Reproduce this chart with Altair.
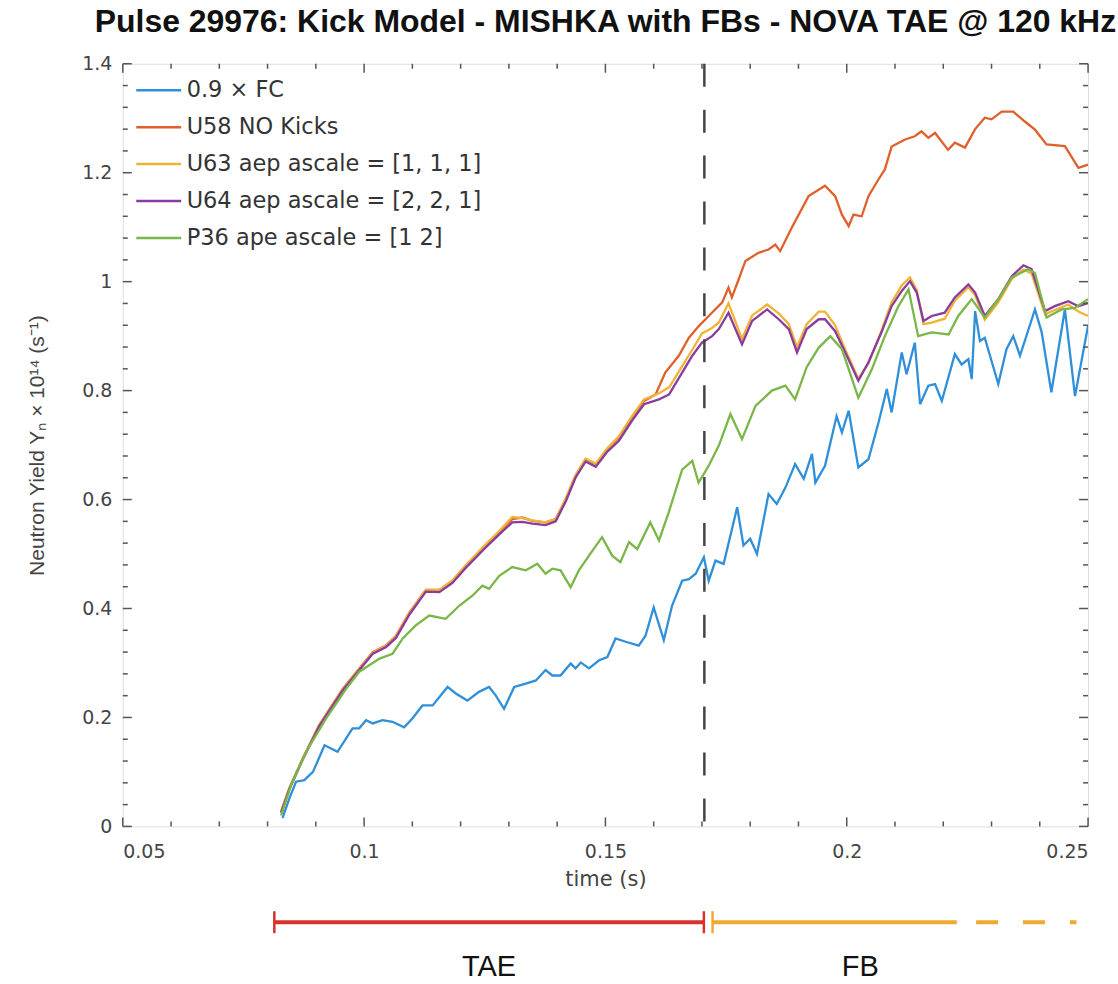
import altair as alt
import pandas as pd

# ---------------- data ----------------
names = ["0.9 × FC", "U58 NO Kicks", "U63 aep ascale = [1, 1, 1]",
         "U64 aep ascale = [2, 2, 1]", "P36 ape ascale = [1 2]"]
colors = ["#2f8fd8", "#e0602c", "#f0b334", "#8a3c9e", "#7ab648"]

fc_t = [0.0831,0.0845,0.0859,0.0876,0.0894,0.0918,0.0945,0.0976,0.099,0.1004,0.1018,0.1038,0.1059,0.1083,0.1100,
        0.1121,0.1142,0.1173,0.119,0.1214,0.1238,0.1259,0.1273,0.129,0.1311,0.1335,0.1356,0.1376,0.139,0.1407,
        0.1428,0.1438,0.1449,0.1466,0.1487,0.1504,0.1521,0.1542,0.1569,0.1583,0.160,0.1621,0.1638,0.1659,0.1673,
        0.1687,0.1704,0.1714,0.1728,0.1745,0.1773,0.1786,0.180,0.1814,0.1838,0.1855,0.1873,0.1893,0.1911,0.1928,
        0.1935,0.1955,0.1979,0.199,0.2004,0.2024,0.2045,0.2066,0.2083,0.2093,0.2114,0.2124,0.2141,0.2152,0.2169,
        0.2183,0.2197,0.2224,0.2238,0.2252,0.2259,0.2266,0.2276,0.2286,0.2314,0.2331,0.2345,0.2359,0.239,0.2404,
        0.2424,0.2452,0.2473,0.25]
fc_y = [0.015,0.051,0.082,0.085,0.100,0.149,0.137,0.180,0.180,0.195,0.189,0.195,0.192,0.182,0.198,
        0.222,0.222,0.256,0.244,0.231,0.247,0.256,0.240,0.216,0.256,0.262,0.268,0.287,0.277,0.277,
        0.299,0.290,0.301,0.290,0.305,0.311,0.345,0.339,0.332,0.350,0.402,0.342,0.405,0.451,0.454,
        0.464,0.494,0.451,0.488,0.482,0.586,0.516,0.528,0.500,0.610,0.592,0.622,0.665,0.638,0.684,
        0.631,0.662,0.753,0.723,0.763,0.659,0.674,0.742,0.803,0.760,0.870,0.830,0.888,0.775,0.809,
        0.812,0.781,0.867,0.848,0.858,0.821,0.946,0.891,0.897,0.812,0.876,0.900,0.864,0.949,0.907,
        0.797,0.949,0.790,0.919]

u58_t = [0.0828,0.0845,0.0873,0.0907,0.0956,0.099,0.1018,0.1045,0.1066,0.1094,0.1128,0.1156,0.1183,0.1211,0.1252,
         0.128,0.1307,0.1328,0.1349,0.1376,0.1397,0.1418,0.1438,0.1459,0.148,0.1504,0.1528,0.1556,0.158,0.1604,
         0.1624,0.1652,0.1673,0.1693,0.1714,0.1742,0.1755,0.1762,0.1776,0.179,0.1817,0.1838,0.1852,0.1862,0.1886,
         0.1921,0.1955,0.1976,0.199,0.2004,0.2014,0.2031,0.2045,0.2066,0.2079,0.2093,0.2121,0.2141,0.2155,0.2169,
         0.2183,0.221,0.2224,0.2245,0.2266,0.2286,0.23,0.2321,0.2345,0.2369,0.239,0.2414,0.2452,0.248,0.25]
u58_y = [0.027,0.070,0.125,0.186,0.253,0.290,0.320,0.332,0.350,0.393,0.434,0.434,0.451,0.479,0.516,
         0.540,0.564,0.567,0.561,0.558,0.564,0.601,0.643,0.674,0.665,0.693,0.714,0.753,0.781,0.793,
         0.833,0.864,0.897,0.918,0.937,0.962,0.989,0.971,1.004,1.038,1.053,1.059,1.068,1.056,1.099,
         1.157,1.176,1.157,1.123,1.102,1.123,1.120,1.157,1.188,1.206,1.248,1.261,1.267,1.276,1.264,
         1.273,1.242,1.255,1.246,1.280,1.301,1.298,1.312,1.312,1.294,1.279,1.252,1.249,1.209,1.215]

u6x_t = [0.0828,0.0845,0.0873,0.0907,0.0956,0.099,0.1018,0.1045,0.1066,0.1094,0.1128,0.1156,0.1183,0.1211,0.1252,
         0.128,0.1307,0.1328,0.1349,0.1376,0.1397,0.1418,0.1438,0.1459,0.148,0.1504,0.1528,0.1556,0.158,0.1611,
         0.1632,0.1659,0.168,0.17,0.1721,0.1735,0.1755,0.1783,0.1804,0.1835,0.1859,0.188,0.1897,0.1917,0.1942,
         0.1955,0.1976,0.1997,0.2024,0.2045,0.2072,0.2093,0.2114,0.2131,0.2145,0.2159,0.2176,0.2203,0.2224,0.2252,
         0.2266,0.2286,0.2314,0.2342,0.2366,0.2383,0.2411,0.2431,0.2459,0.248,0.25]
u63_y = [0.026,0.069,0.124,0.186,0.252,0.289,0.319,0.331,0.349,0.392,0.434,0.434,0.451,0.480,0.518,
         0.542,0.568,0.566,0.562,0.558,0.564,0.602,0.645,0.675,0.666,0.694,0.716,0.754,0.784,0.795,
         0.806,0.845,0.875,0.905,0.915,0.925,0.960,0.895,0.938,0.958,0.942,0.922,0.880,0.922,0.945,
         0.945,0.920,0.875,0.822,0.850,0.910,0.962,0.993,1.008,0.985,0.922,0.925,0.932,0.965,0.990,
         0.975,0.930,0.962,1.005,1.022,1.015,0.940,0.948,0.958,0.945,0.937]
u64_y = [0.025,0.068,0.123,0.184,0.250,0.287,0.317,0.329,0.346,0.389,0.431,0.430,0.447,0.475,0.512,
         0.536,0.558,0.559,0.556,0.553,0.560,0.597,0.640,0.670,0.660,0.688,0.708,0.746,0.775,0.784,
         0.793,0.833,0.864,0.888,0.900,0.913,0.943,0.885,0.928,0.949,0.931,0.913,0.870,0.913,0.931,
         0.931,0.909,0.870,0.818,0.852,0.907,0.955,0.983,1.001,0.980,0.928,0.937,0.943,0.971,0.995,
         0.980,0.937,0.968,1.010,1.030,1.023,0.946,0.955,0.964,0.955,0.961]

p36_t = [0.0828,0.0849,0.088,0.0921,0.0963,0.099,0.1032,0.1059,0.108,0.1107,0.1135,0.1169,0.1197,0.1225,0.1245,
         0.1259,0.128,0.1307,0.1335,0.1359,0.1376,0.139,0.1407,0.1428,0.1445,0.1466,0.1493,0.1514,0.1531,0.1549,
         0.1566,0.1593,0.1611,0.1631,0.1659,0.168,0.1693,0.1714,0.1735,0.1759,0.1783,0.1811,0.1845,0.1873,0.1893,
         0.1917,0.1942,0.1966,0.199,0.2024,0.2052,0.2079,0.2107,0.2128,0.2148,0.2176,0.2211,0.2231,0.2259,0.2286,
         0.2314,0.2342,0.2376,0.239,0.2414,0.2445,0.2473,0.25]
p36_y = [0.020,0.076,0.137,0.198,0.253,0.284,0.308,0.317,0.345,0.369,0.387,0.381,0.405,0.424,0.442,
         0.436,0.460,0.476,0.470,0.482,0.464,0.473,0.470,0.439,0.470,0.497,0.531,0.497,0.485,0.522,
         0.509,0.558,0.525,0.576,0.655,0.671,0.631,0.662,0.699,0.757,0.711,0.772,0.800,0.809,0.784,
         0.843,0.879,0.900,0.876,0.787,0.839,0.900,0.955,0.986,0.900,0.907,0.903,0.937,0.968,0.934,
         0.968,1.008,1.023,1.016,0.934,0.949,0.952,0.968]

marker_t = [0.1705]                      # dashed vertical line
tae_span = [0.0814, 0.1704]              # TAE bar
fb_span = [0.1722, 0.2228]               # FB bar (solid part)
fb_dash = [0.2268, 0.2476]               # FB bar (dashed part)
phase_labels = ["TAE", "FB"]
phase_label_t = [0.1259, 0.2028]

x_major = [0.05, 0.1, 0.15, 0.2, 0.25]
x_minor = [0.06, 0.07, 0.08, 0.09, 0.11, 0.12, 0.13, 0.14, 0.16, 0.17, 0.18, 0.19, 0.21, 0.22, 0.23, 0.24]
y_major = [0, 0.2, 0.4, 0.6, 0.8, 1.0, 1.2, 1.4]
y_minor = [0.04, 0.08, 0.12, 0.16, 0.24, 0.28, 0.32, 0.36, 0.44, 0.48, 0.52, 0.56, 0.64, 0.68, 0.72, 0.76,
           0.84, 0.88, 0.92, 0.96, 1.04, 1.08, 1.12, 1.16, 1.24, 1.28, 1.32, 1.36]

# ---------------- build tables ----------------
series = [(names[0], fc_t, fc_y), (names[1], u58_t, u58_y), (names[2], u6x_t, u63_y),
          (names[3], u6x_t, u64_y), (names[4], p36_t, p36_y)]
rows = []
for name, ts, ys in series:
    for t, y in zip(ts, ys):
        rows.append({"series": name, "t": t, "y": y})
df = pd.DataFrame(rows)

W, H = 967, 764
FONT = "Liberation Sans"
WIDE = "DejaVu Sans"
xs = alt.Scale(domain=[0.05, 0.25], nice=False, zero=False)
ys_ = alt.Scale(domain=[0, 1.4], nice=False, zero=True)

lines = alt.Chart(df).mark_line(strokeWidth=2.3, clip=True).encode(
    x=alt.X("t:Q", scale=xs, axis=alt.Axis(values=x_major, format=".2~f", ticks=False, domain=False, grid=False,
                                           labelFontSize=19, labelColor="#444", labelPadding=16, labelFont=WIDE,
                                           title="time (s)", titleFontSize=21, titleColor="#444",
                                           titleFontWeight="normal", titleFont=WIDE, titlePadding=7)),
    y=alt.Y("y:Q", scale=ys_, axis=alt.Axis(values=y_major, format=".1~f", ticks=False, domain=False, grid=False,
                                            labelFontSize=19, labelColor="#444", labelPadding=11, labelFont=WIDE,
                                            title="Neutron Yield Yₙ × 10¹⁴ (s⁻¹)", titleFontSize=21,
                                            titleColor="#444", titleFontWeight="normal", titleFont=FONT,
                                            titlePadding=34)),
    color=alt.Color("series:N", sort=names, scale=alt.Scale(domain=names, range=colors),
                    legend=alt.Legend(orient="none", legendX=12, legendY=8, title=None, symbolType="stroke",
                                      symbolSize=2025, symbolStrokeWidth=2.5, labelFontSize=22.5,
                                      labelColor="#333", labelFont=WIDE, clipHeight=37, rowPadding=0,
                                      labelOffset=4, padding=0, symbolOffset=0, labelLimit=600)),
    order=alt.Order("idx:Q"),
).transform_window(idx="row_number()")

vline = alt.Chart(pd.DataFrame({"t": marker_t})).mark_rule(
    color="#444", strokeWidth=2.5, strokeDash=[23, 23]).encode(
    x=alt.X("t:Q", scale=xs), y=alt.value(0), y2=alt.value(H))


def ticks(vals, chan, side, length):
    d = pd.DataFrame({chan: vals})
    m = alt.Chart(d).mark_rule(color="#555", strokeWidth=1.5)
    if chan == "t":
        enc = dict(x=alt.X("t:Q", scale=xs))
        if side == "bottom":
            enc.update(y=alt.value(H), y2=alt.value(H - length))
        else:
            enc.update(y=alt.value(0), y2=alt.value(length))
    else:
        enc = dict(y=alt.Y("y:Q", scale=ys_))
        if side == "left":
            enc.update(x=alt.value(0), x2=alt.value(length))
        else:
            enc.update(x=alt.value(W), x2=alt.value(W - length))
    return m.encode(**enc)


tick_layers = [
    ticks(x_major, "t", "bottom", 9), ticks(x_minor, "t", "bottom", 5),
    ticks(x_major, "t", "top", 9), ticks(x_minor, "t", "top", 5),
    ticks(y_major, "y", "left", 9), ticks(y_minor, "y", "left", 5),
    ticks(y_major, "y", "right", 9), ticks(y_minor, "y", "right", 5),
]

# phase bars below the axis
BAR_Y = H + 96
tae_df = pd.DataFrame({"t": [tae_span[0]], "t2": [tae_span[1]]})
fb_df = pd.DataFrame({"t": [fb_span[0]], "t2": [fb_span[1]]})
fbd_df = pd.DataFrame({"t": [fb_dash[0]], "t2": [fb_dash[1]]})
tae_bar = alt.Chart(tae_df).mark_rule(color="#d6322b", strokeWidth=4).encode(
    x=alt.X("t:Q", scale=xs), x2="t2:Q", y=alt.value(BAR_Y))
tae_caps = alt.Chart(pd.DataFrame({"t": tae_span})).mark_rule(color="#d6322b", strokeWidth=2.5).encode(
    x=alt.X("t:Q", scale=xs), y=alt.value(BAR_Y - 11), y2=alt.value(BAR_Y + 11))
fb_bar = alt.Chart(fb_df).mark_rule(color="#efa92e", strokeWidth=4).encode(
    x=alt.X("t:Q", scale=xs), x2="t2:Q", y=alt.value(BAR_Y))
fb_dashes = alt.Chart(fbd_df).mark_rule(color="#efa92e", strokeWidth=4, strokeDash=[22, 25]).encode(
    x=alt.X("t:Q", scale=xs), x2="t2:Q", y=alt.value(BAR_Y))
fb_cap = alt.Chart(pd.DataFrame({"t": [fb_span[0]]})).mark_rule(color="#efa92e", strokeWidth=2.5).encode(
    x=alt.X("t:Q", scale=xs), y=alt.value(BAR_Y - 11), y2=alt.value(BAR_Y + 11))
phase_text = alt.Chart(pd.DataFrame({"t": phase_label_t, "label": phase_labels})).mark_text(
    fontSize=29, font=FONT, color="#111", baseline="middle", align="center").encode(
    x=alt.X("t:Q", scale=xs), y=alt.value(H + 141), text="label:N")

chart = alt.layer(
    lines, vline, *tick_layers, tae_bar, tae_caps, fb_bar, fb_dashes, fb_cap, phase_text
).properties(
    width=W, height=H,
    title=alt.TitleParams("Pulse 29976: Kick Model - MISHKA with FBs - NOVA TAE @ 120 kHz",
                          fontSize=32, fontWeight="bold", font=FONT, color="#111", anchor="middle", offset=16),
    padding={"left": 26, "top": 5, "right": 0, "bottom": 0},
).configure_view(stroke="#555", strokeWidth=2).configure(background="white")

chart.save("out.html", embed_options={"renderer": "svg", "actions": False})
